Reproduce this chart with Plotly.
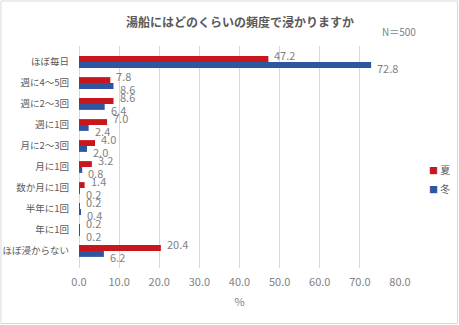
import plotly.graph_objects as go

categories = ["ほぼ毎日", "週に4～5回", "週に2～3回", "週に1回", "月に2～3回", "月に1回",
              "数か月に1回", "半年に1回", "年に1回", "ほぼ浸からない"]
summer = [47.2, 7.8, 8.6, 7.0, 4.0, 3.2, 1.4, 0.2, 0.2, 20.4]
winter = [72.8, 8.6, 6.4, 2.4, 2.0, 0.8, 0.2, 0.4, 0.2, 6.2]
series_names = ["夏", "冬"]
colors = ["#C8161D", "#2E55A0"]
x_ticks = [0, 10, 20, 30, 40, 50, 60, 70, 80]

FONT = "Noto Sans CJK JP"
fig = go.Figure()
for name, vals, col in zip(series_names, [summer, winter], colors):
    fig.add_trace(go.Bar(y=categories, x=vals, name=name, orientation="h",
                         marker=dict(color=col, line=dict(width=0)), showlegend=False))

annotations = []
for vals, shift in [(summer, 7), (winter, -6)]:
    for c, v in zip(categories, vals):
        annotations.append(dict(x=v, y=c, xref="x", yref="y", text=f"{v:.1f}",
                                showarrow=False, xanchor="left", yanchor="middle",
                                xshift=4, yshift=shift,
                                font=dict(family=FONT, size=11, color="#7F7F7F")))

# title and N
annotations.append(dict(x=0.5, y=1, xref="paper", yref="paper", xanchor="center", yanchor="middle",
                        yshift=24.5, showarrow=False,
                        text="<b>湯船にはどのくらいの頻度で浸かりますか</b>",
                        font=dict(family=FONT, size=12, color="#595959")))
annotations.append(dict(x=1.0, y=1, xref="paper", yref="paper", xanchor="right", yanchor="middle",
                        xshift=18, yshift=15, showarrow=False, text="N＝500",
                        font=dict(family=FONT, size=10, color="#7F7F7F")))
# legend
for i, (name, col) in enumerate(zip(series_names, colors)):
    annotations.append(dict(x=1.0, y=1, xref="paper", yref="paper", xanchor="left", yanchor="middle",
                            xshift=27, yshift=-(169.5 - 46) - i * 19, showarrow=False,
                            text=f"<span style='color:{col};font-size:9px'>■</span> {name}",
                            font=dict(family=FONT, size=10, color="#595959")))

fig.update_layout(
    width=459, height=325,
    margin=dict(l=79, r=59, t=46, b=57),
    paper_bgcolor="white", plot_bgcolor="white",
    barmode="group", bargap=0.44, bargroupgap=0,
    annotations=annotations,
    xaxis=dict(range=[0, 80], tickvals=x_ticks, tickformat=".1f", automargin=False,
               showgrid=True, gridcolor="#D9D9D9", gridwidth=1,
               zeroline=True, zerolinecolor="#D9D9D9", zerolinewidth=1,
               showline=False, ticks="", ticklabelstandoff=6,
               tickfont=dict(family=FONT, size=11, color="#7F7F7F"),
               title=dict(text="%", font=dict(family=FONT, size=11, color="#7F7F7F"), standoff=10)),
    yaxis=dict(autorange="reversed", showgrid=False, showline=False, ticks="", automargin=False,
               ticklabelstandoff=9,
               tickfont=dict(family=FONT, size=9.5, color="#595959")),
    shapes=[dict(type="rect", xref="paper", yref="paper",
                 x0=(1 - 79) / 321, x1=(457.5 - 79) / 321,
                 y0=(268 - 323.5) / 222, y1=(268 - 1) / 222,
                 line=dict(color="#D9D9D9", width=1), fillcolor="rgba(0,0,0,0)", layer="below")],
)
fig.write_html("out.html")
